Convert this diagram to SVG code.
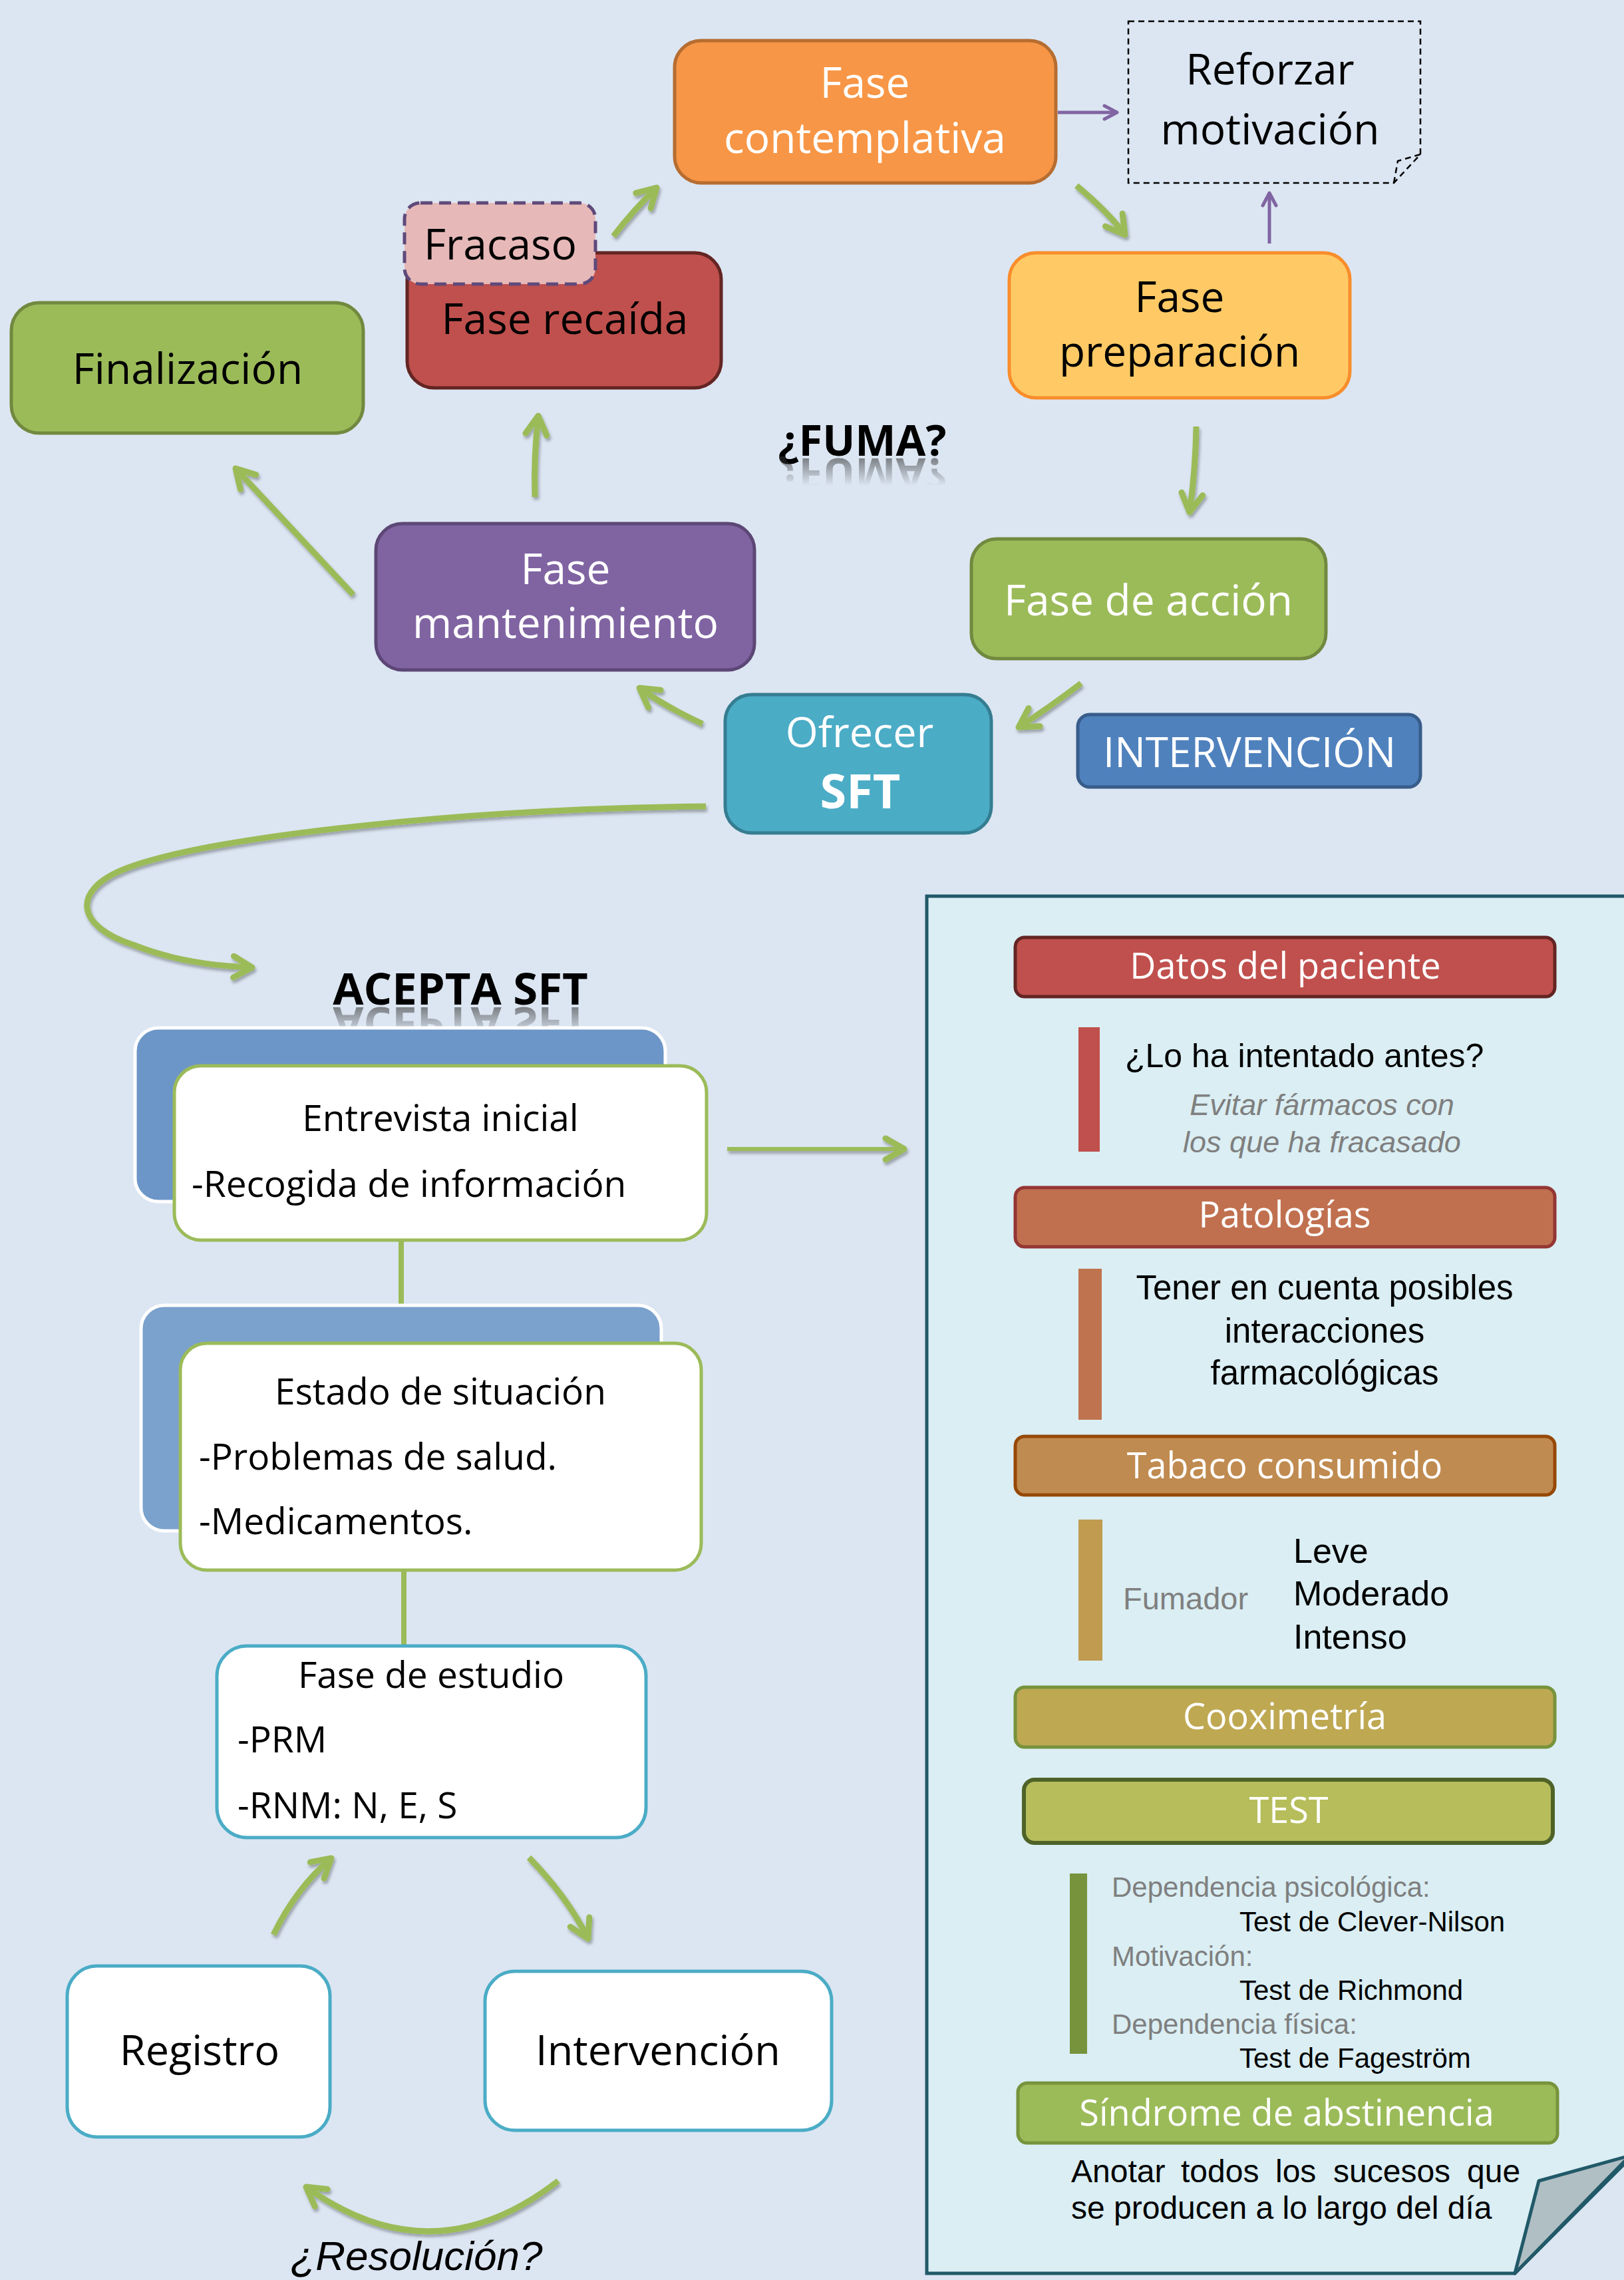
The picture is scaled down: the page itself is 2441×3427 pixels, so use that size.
<svg xmlns="http://www.w3.org/2000/svg" width="2441" height="3427" viewBox="0 0 2441 3427">
<style>
.os{font-family:"Open Sans","Noto Sans",sans-serif}
.ar{font-family:"Liberation Sans",Arial,sans-serif}
.n64{font-size:64px}
.n55{font-size:55px}
.w{fill:#ffffff}
.k{fill:#000000}
.g{fill:#7f7f7f}
.mid{text-anchor:middle}
.garrow{fill:none;stroke:#9bbb59;stroke-width:9;stroke-linecap:butt}
.parrow{fill:none;stroke:#8064a2;stroke-width:5}
.hdr{stroke-width:5}
.htxt{font-family:"Open Sans","Noto Sans",sans-serif;font-size:54px;fill:#ffffff;text-anchor:middle}
</style>
<defs>
<marker id="ga" viewBox="0 0 44 44" refX="37" refY="22" markerWidth="44" markerHeight="44" markerUnits="userSpaceOnUse" orient="auto">
<path d="M9,6 L37,22 L9,38" fill="none" stroke="#9bbb59" stroke-width="9" stroke-linecap="round" stroke-linejoin="round"/>
</marker>
<marker id="pa" viewBox="0 0 26 26" refX="23" refY="13" markerWidth="26" markerHeight="26" markerUnits="userSpaceOnUse" orient="auto">
<path d="M4,3 L23,13 L4,23" fill="none" stroke="#8064a2" stroke-width="5" stroke-linecap="round" stroke-linejoin="round"/>
</marker>
<filter id="sh" x="-10%" y="-10%" width="120%" height="120%">
<feDropShadow dx="2" dy="4" stdDeviation="2" flood-color="#000" flood-opacity="0.3"/>
</filter>
<linearGradient id="fade" x1="0" y1="0" x2="0" y2="1">
<stop offset="0" stop-color="#fff" stop-opacity="0.6"/>
<stop offset="1" stop-color="#fff" stop-opacity="0"/>
</linearGradient>
<mask id="mFuma" maskUnits="userSpaceOnUse" x="1100" y="686" width="400" height="50">
<rect x="1100" y="686" width="400" height="44" fill="url(#fade)"/>
</mask>
<mask id="mAcepta" maskUnits="userSpaceOnUse" x="450" y="1512" width="500" height="50">
<rect x="450" y="1512" width="500" height="44" fill="url(#fade)"/>
</mask>
</defs>
<rect x="0" y="0" width="2441" height="3427" fill="#dce6f2"/>

<!-- right panel -->
<g id="panel">
<path d="M1393,1347 H2450 V3244 L2277,3417 H1393 Z" fill="#daeef3" stroke="#215968" stroke-width="5"/>
<polygon points="2313,3278 2450,3240 2277,3417" fill="#b0bfc4" stroke="#215968" stroke-width="5" stroke-linejoin="round"/>
</g>

<!-- connectors -->
<g id="connectors">
<g filter="url(#sh)">
<path class="garrow" d="M922,355 Q950,318 987,282" marker-end="url(#ga)"/>
<path class="garrow" d="M1618,279 Q1665,318 1691,353" marker-end="url(#ga)"/>
<path class="garrow" d="M1798,641 Q1797,705 1788,770" marker-end="url(#ga)"/>
<path class="garrow" d="M1625,1027 Q1575,1065 1531,1093" marker-end="url(#ga)"/>
<path class="garrow" d="M1056,1088 Q1000,1062 961,1034" marker-end="url(#ga)"/>
<path class="garrow" d="M531,894 L354,704" marker-end="url(#ga)"/>
<path class="garrow" d="M804,747 Q802,688 809,625" marker-end="url(#ga)"/>
<path class="garrow" d="M1061,1212 C720,1215 320,1255 190,1305 C100,1340 120,1395 200,1420 C250,1440 310,1452 379,1454" marker-end="url(#ga)"/>
<path class="garrow" d="M1093,1727 L1359,1727" style="stroke-width:6" marker-end="url(#ga)"/>
<path class="garrow" d="M411,2908 Q445,2838 498,2793" marker-end="url(#ga)"/>
<path class="garrow" d="M795,2792 Q852,2850 884,2914" marker-end="url(#ga)"/>
<path class="garrow" d="M839,3278 Q650,3425 460,3287" marker-end="url(#ga)"/>
</g>
<line x1="603" y1="1864" x2="603" y2="1962" stroke="#9bbb59" stroke-width="8"/>
<line x1="607" y1="2360" x2="607" y2="2474" stroke="#9bbb59" stroke-width="8"/>
<path class="parrow" d="M1590,169 L1679,169" marker-end="url(#pa)"/>
<path class="parrow" d="M1908,366 L1908,290" marker-end="url(#pa)"/>
</g>

<!-- top nodes -->
<g id="finalizacion">
<rect x="17" y="455" width="529" height="196" rx="42" fill="#9bbb59" stroke="#71893f" stroke-width="5"/>
<text class="os n64 k mid" x="282" y="577">Finalización</text>
</g>
<g id="recaida">
<rect x="612" y="380" width="472" height="203" rx="40" fill="#c0504d" stroke="#632523" stroke-width="5"/>
<text class="os n64 k mid" x="849" y="502">Fase recaída</text>
</g>
<g id="fracaso">
<rect x="608" y="305" width="287" height="122" rx="24" fill="#e6b9b8" stroke="#5f497a" stroke-width="5" stroke-dasharray="18 10"/>
<text class="os n64 k mid" x="752" y="390">Fracaso</text>
</g>
<g id="contemplativa">
<rect x="1014" y="61" width="573" height="214" rx="40" fill="#f79646" stroke="#b66d31" stroke-width="5"/>
<text class="os n64 w mid" x="1300" y="147">Fase</text>
<text class="os n64 w mid" x="1300" y="230">contemplativa</text>
</g>
<g id="reforzar">
<path d="M1696,32 H2135 V232 L2095,275 H1696 Z" fill="none" stroke="#000" stroke-width="2.5" stroke-dasharray="9 6"/>
<path d="M2135,232 L2101,242 L2095,275" fill="none" stroke="#000" stroke-width="2.5" stroke-dasharray="9 6"/>
<text class="os n64 k mid" x="1909" y="127">Reforzar</text>
<text class="os n64 k mid" x="1909" y="217">motivación</text>
</g>
<g id="preparacion">
<rect x="1517" y="380" width="512" height="218" rx="40" fill="#ffca65" stroke="#f98d2b" stroke-width="5"/>
<text class="os n64 k mid" x="1773" y="469">Fase</text>
<text class="os n64 k mid" x="1773" y="551">preparación</text>
</g>
<g id="accion">
<rect x="1460" y="810" width="533" height="180" rx="38" fill="#9bbb59" stroke="#71893f" stroke-width="5"/>
<text class="os n64 w mid" x="1726" y="925">Fase de acción</text>
</g>
<g id="mantenimiento">
<rect x="565" y="787" width="569" height="220" rx="40" fill="#8064a2" stroke="#5c4776" stroke-width="5"/>
<text class="os n64 w mid" x="850" y="878">Fase</text>
<text class="os n64 w mid" x="850" y="959">mantenimiento</text>
</g>
<g id="ofrecer">
<rect x="1090" y="1044" width="400" height="208" rx="40" fill="#4bacc6" stroke="#357d91" stroke-width="5"/>
<text class="os w mid" x="1292" y="1123" font-size="63">Ofrecer</text>
<text class="os w mid" x="1293" y="1215" font-size="72" font-weight="bold">SFT</text>
</g>
<g id="intervencion-label">
<rect x="1620" y="1074" width="515" height="109" rx="18" fill="#4f81bd" stroke="#385d8a" stroke-width="5"/>
<text class="os w mid" x="1878" y="1153" font-size="62">INTERVENCIÓN</text>
</g>
<g id="fuma">
<text class="os k mid" x="1296" y="685" font-size="65" font-weight="bold">¿FUMA?</text>
<g mask="url(#mFuma)">
<text class="os mid" x="1296" y="685" font-size="65" font-weight="bold" fill="#333" transform="matrix(1 0 0 -1 0 1374)">¿FUMA?</text>
</g>
</g>

<!-- SFT flow -->
<g id="acepta">
<text class="os k mid" x="692" y="1510" font-size="67" font-weight="bold">ACEPTA SFT</text>
<g mask="url(#mAcepta)">
<text class="os mid" x="692" y="1510" font-size="67" font-weight="bold" fill="#333" transform="matrix(1 0 0 -1 0 3024)">ACEPTA SFT</text>
</g>
</g>
<g id="entrevista">
<rect x="203" y="1545" width="797" height="261" rx="35" fill="#6c96c8" stroke="#ffffff" stroke-width="5"/>
<rect x="262" y="1602" width="800" height="262" rx="40" fill="#ffffff" stroke="#9bbb59" stroke-width="5"/>
<text class="os n55 k mid" x="662" y="1700">Entrevista inicial</text>
<text class="os n55 k" x="288" y="1799">-Recogida de información</text>
</g>
<g id="estado">
<rect x="212" y="1962" width="782" height="339" rx="35" fill="#7ba1cd" stroke="#ffffff" stroke-width="5"/>
<rect x="271" y="2019" width="783" height="341" rx="40" fill="#ffffff" stroke="#9bbb59" stroke-width="5"/>
<text class="os n55 k mid" x="662" y="2111">Estado de situación</text>
<text class="os n55 k" x="299" y="2209">-Problemas de salud.</text>
<text class="os n55 k" x="299" y="2306">-Medicamentos.</text>
</g>
<g id="estudio">
<rect x="326" y="2474" width="645" height="288" rx="45" fill="#ffffff" stroke="#4bacc6" stroke-width="5"/>
<text class="os n55 k mid" x="648" y="2537">Fase de estudio</text>
<text class="os n55 k" x="357" y="2634">-PRM</text>
<text class="os n55 k" x="357" y="2733">-RNM: N, E, S</text>
</g>
<g id="registro">
<rect x="101" y="2955" width="395" height="257" rx="45" fill="#ffffff" stroke="#4bacc6" stroke-width="5"/>
<text class="os k mid" x="300" y="3104" font-size="63">Registro</text>
</g>
<g id="intervencion">
<rect x="729" y="2963" width="521" height="239" rx="45" fill="#ffffff" stroke="#4bacc6" stroke-width="5"/>
<text class="os k mid" x="989" y="3104" font-size="63">Intervención</text>
</g>
<text class="ar k mid" x="626" y="3412" font-size="62" font-style="italic">¿Resolución?</text>

<!-- panel content -->
<g id="datos">
<rect class="hdr" x="1526" y="1409" width="811" height="89" rx="14" fill="#c0504d" stroke="#632523"/>
<text class="htxt" x="1932" y="1471">Datos del paciente</text>
<rect x="1621" y="1544" width="32" height="187" fill="#c0504d"/>
<text class="ar k" x="1691" y="1604" font-size="50">¿Lo ha intentado antes?</text>
<text class="ar g mid" x="1987" y="1676" font-size="45" font-style="italic">Evitar fármacos con</text>
<text class="ar g mid" x="1987" y="1732" font-size="45" font-style="italic">los que ha fracasado</text>
</g>
<g id="patologias">
<rect class="hdr" x="1526" y="1785" width="811" height="89" rx="14" fill="#c0704f" stroke="#943634"/>
<text class="htxt" x="1931" y="1845">Patologías</text>
<rect x="1621" y="1907" width="35" height="227" fill="#c0734f"/>
<text class="ar k mid" x="1991" y="1953" font-size="51">Tener en cuenta posibles</text>
<text class="ar k mid" x="1991" y="2018" font-size="51">interacciones</text>
<text class="ar k mid" x="1991" y="2081" font-size="51">farmacológicas</text>
</g>
<g id="tabaco">
<rect class="hdr" x="1526" y="2159" width="811" height="88" rx="14" fill="#c08b50" stroke="#974806"/>
<text class="htxt" x="1931" y="2222">Tabaco consumido</text>
<rect x="1621" y="2284" width="36" height="212" fill="#c09b50"/>
<text class="ar g" x="1688" y="2419" font-size="47">Fumador</text>
<text class="ar k" x="1944" y="2349" font-size="52">Leve</text>
<text class="ar k" x="1944" y="2413" font-size="52">Moderado</text>
<text class="ar k" x="1944" y="2478" font-size="52">Intenso</text>
</g>
<g id="cooximetria">
<rect class="hdr" x="1526" y="2536" width="811" height="90" rx="14" fill="#bea852" stroke="#77933c"/>
<text class="htxt" x="1931" y="2599">Cooximetría</text>
</g>
<g id="test">
<rect x="1539" y="2675" width="795" height="95" rx="16" fill="#b6bd5a" stroke="#4f6228" stroke-width="6"/>
<text class="htxt" x="1937" y="2740">TEST</text>
<rect x="1608" y="2816" width="26" height="271" fill="#77933c"/>
<text class="ar g" x="1671" y="2851" font-size="42">Dependencia psicológica:</text>
<text class="ar k" x="1863" y="2903" font-size="42">Test de Clever-Nilson</text>
<text class="ar g" x="1671" y="2955" font-size="42">Motivación:</text>
<text class="ar k" x="1863" y="3006" font-size="42">Test de Richmond</text>
<text class="ar g" x="1671" y="3057" font-size="42">Dependencia física:</text>
<text class="ar k" x="1863" y="3108" font-size="42">Test de Fageström</text>
</g>
<g id="sindrome">
<rect class="hdr" x="1530" y="3131" width="811" height="90" rx="14" fill="#9bbb59" stroke="#77933c"/>
<text class="htxt" x="1934" y="3195" font-size="55">Síndrome de abstinencia</text>
<text class="ar k" y="3280" font-size="48"><tspan x="1610">Anotar</tspan><tspan x="1775">todos</tspan><tspan x="1917">los</tspan><tspan x="2004">sucesos</tspan><tspan x="2205">que</tspan></text>
<text class="ar k" x="1610" y="3335" font-size="48">se producen a lo largo del día</text>
</g>
</svg>
